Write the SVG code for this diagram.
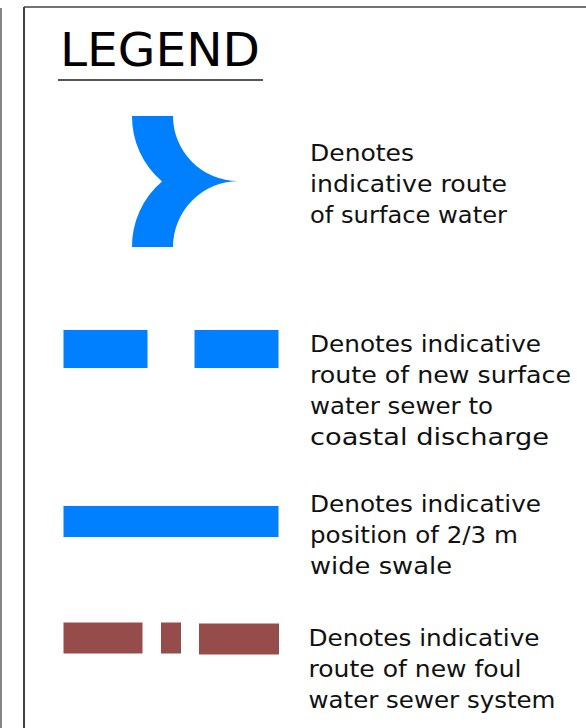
<svg xmlns="http://www.w3.org/2000/svg" width="586" height="728" viewBox="0 0 586 728">
  <style>
    .t { font-family: "DejaVu Sans", "Liberation Sans", sans-serif; font-size: 23.5px; fill: #111; }
    .h { font-family: "DejaVu Sans", "Liberation Sans", sans-serif; font-size: 46px; fill: #000; }
    .blue { fill: #0080ff; }
    .foul { fill: #954c4a; }
  </style>
  <rect width="586" height="728" fill="#ffffff"/>
  <g id="frame">
    <line x1="1" y1="8" x2="1" y2="728" stroke="#666" stroke-width="1.6"/>
    <line x1="24" y1="7" x2="24" y2="728" stroke="#111" stroke-width="1.6"/>
    <line x1="24" y1="7" x2="586" y2="7" stroke="#444" stroke-width="1.6"/>
  </g>
  <g id="title">
    <text class="h" x="60" y="66" textLength="200" lengthAdjust="spacingAndGlyphs">LEGEND</text>
    <line x1="58" y1="80" x2="263" y2="80" stroke="#555" stroke-width="2"/>
  </g>
  <g id="surface-water">
    <path class="blue" d="M132,116 L173,116 A65,65 0 0 0 238,181 A66,66 0 0 0 173,247 L132,247 A85,85 0 0 1 162,181.5 A85,85 0 0 1 132,116 Z"/>
    <text class="t" x="310" y="161" textLength="104" lengthAdjust="spacingAndGlyphs">Denotes</text>
    <text class="t" x="310" y="192" textLength="197" lengthAdjust="spacingAndGlyphs">indicative route</text>
    <text class="t" x="310" y="223" textLength="197" lengthAdjust="spacingAndGlyphs">of surface water</text>
  </g>
  <g id="new-surface-sewer">
    <rect class="blue" x="63.5" y="330" width="84" height="38"/>
    <rect class="blue" x="194.5" y="330" width="84" height="38"/>
    <text class="t" x="310" y="352" textLength="231" lengthAdjust="spacingAndGlyphs">Denotes indicative</text>
    <text class="t" x="310" y="383" textLength="261" lengthAdjust="spacingAndGlyphs">route of new surface</text>
    <text class="t" x="310" y="414" textLength="183" lengthAdjust="spacingAndGlyphs">water sewer to</text>
    <text class="t" x="310" y="445" textLength="239" lengthAdjust="spacingAndGlyphs">coastal discharge</text>
  </g>
  <g id="swale">
    <rect class="blue" x="63.5" y="506" width="215" height="31"/>
    <text class="t" x="310" y="512" textLength="231" lengthAdjust="spacingAndGlyphs">Denotes indicative</text>
    <text class="t" x="310" y="543" textLength="208" lengthAdjust="spacingAndGlyphs">position of 2/3 m</text>
    <text class="t" x="310" y="574" textLength="142" lengthAdjust="spacingAndGlyphs">wide swale</text>
  </g>
  <g id="foul-sewer">
    <rect class="foul" x="63.5" y="622.5" width="79" height="31"/>
    <rect class="foul" x="161" y="622.5" width="20" height="31"/>
    <rect class="foul" x="199" y="623.5" width="80" height="31"/>
    <text class="t" x="308.5" y="646" textLength="231" lengthAdjust="spacingAndGlyphs">Denotes indicative</text>
    <text class="t" x="308.5" y="677" textLength="213" lengthAdjust="spacingAndGlyphs">route of new foul</text>
    <text class="t" x="308.5" y="708" textLength="247" lengthAdjust="spacingAndGlyphs">water sewer system</text>
  </g>
</svg>
